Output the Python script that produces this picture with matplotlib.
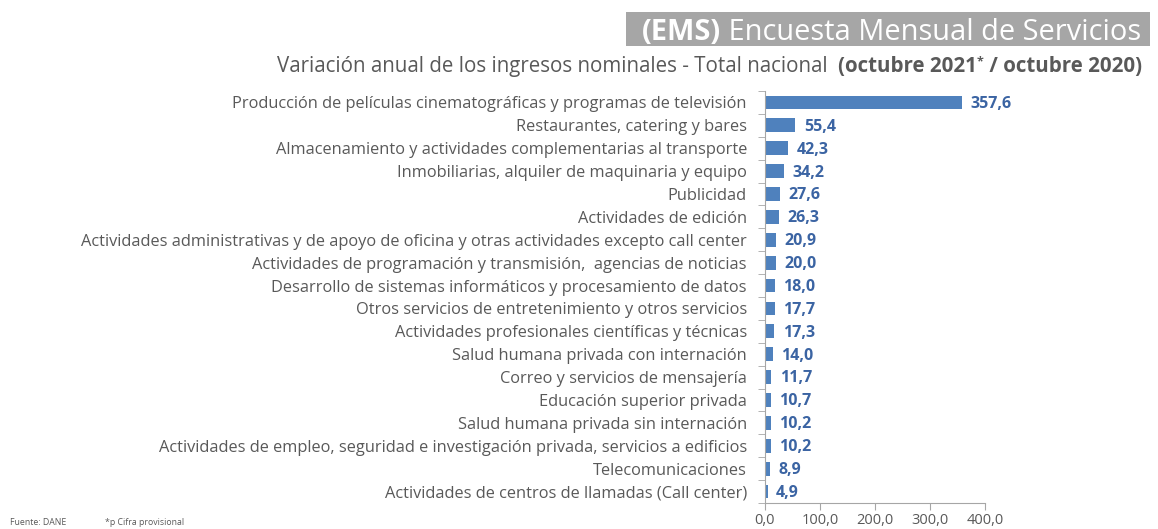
import numpy as np
import matplotlib.pyplot as plt
from matplotlib.patches import Rectangle

plt.rcParams['font.family'] = ['Open Sans', 'DejaVu Sans']

categorias = [
    'Producción de películas cinematográficas y programas de televisión',
    'Restaurantes, catering y bares',
    'Almacenamiento y actividades complementarias al transporte',
    'Inmobiliarias, alquiler de maquinaria y equipo',
    'Publicidad',
    'Actividades de edición',
    'Actividades administrativas y de apoyo de oficina y otras actividades excepto call center',
    'Actividades de programación y transmisión,  agencias de noticias',
    'Desarrollo de sistemas informáticos y procesamiento de datos',
    'Otros servicios de entretenimiento y otros servicios',
    'Actividades profesionales científicas y técnicas',
    'Salud humana privada con internación',
    'Correo y servicios de mensajería',
    'Educación superior privada',
    'Salud humana privada sin internación',
    'Actividades de empleo, seguridad e investigación privada, servicios a edificios',
    'Telecomunicaciones',
    'Actividades de centros de llamadas (Call center)',
]
variacion = [357.6, 55.4, 42.3, 34.2, 27.6, 26.3, 20.9, 20.0, 18.0, 17.7,
             17.3, 14.0, 11.7, 10.7, 10.2, 10.2, 8.9, 4.9]
xticks = [0, 100, 200, 300, 400]

gris = '#595959'
azul = '#4F81BD'
azul_txt = '#3B64A3'

fig = plt.figure(figsize=(11.58, 5.29), dpi=100)
ax = fig.add_axes([0.6606, 1 - 503 / 529, 0.19, (503 - 91) / 529])

n = len(categorias)
y = np.arange(n)
ax.barh(y, variacion, height=0.6, color=azul)
for yi, v in zip(y, variacion):
    ax.annotate(f'{v:.1f}'.replace('.', ','), (v, yi), xytext=(6, -1),
                textcoords='offset points', va='center', ha='left',
                fontsize=11.5, fontweight='bold', color=azul_txt)

ax.set_ylim(n - 0.5, -0.5)
ax.set_xlim(0, 400)
ax.set_yticks(y)
ax.set_yticklabels(categorias, fontsize=11.8, color=gris)
ax.tick_params(axis='y', which='major', length=0, pad=13)
ax.set_yticks(np.arange(-0.5, n, 1), minor=True)
ax.tick_params(axis='y', which='minor', length=5, color='#A6A6A6')
ax.set_xticks(xticks)
ax.set_xticklabels([f'{t:.1f}'.replace('.', ',') for t in xticks], fontsize=10.5, color=gris)
ax.tick_params(axis='x', length=5, color='#A6A6A6', pad=2)
for s in ['top', 'right']:
    ax.spines[s].set_visible(False)
for s in ['left', 'bottom']:
    ax.spines[s].set_color('#A6A6A6')

# cabecera
fig.patches.append(Rectangle((626 / 1158, 1 - 46 / 529), (1150 - 626) / 1158, 34 / 529,
                             transform=fig.transFigure, facecolor='#A6A6A6', edgecolor='none'))
fig.canvas.draw()
r = fig.canvas.get_renderer()

def fila(partes, x_der, y_fig):
    # coloca textos de derecha a izquierda
    x = x_der
    for txt, kw, dy in reversed(partes):
        t = fig.text(x, y_fig + dy / 529, txt, ha='right', va='baseline', **kw)
        bb = t.get_window_extent(renderer=r)
        x -= bb.width / fig.bbox.width

fila([('(EMS)', dict(fontsize=20.9, fontweight='bold', color='white'), 0),
      (' Encuesta Mensual de Servicios', dict(fontsize=20.9, color='white'), 0)],
     1141 / 1158, 1 - 40 / 529)

fila([('Variación anual de los ingresos nominales - Total nacional  ', dict(fontsize=14.8, color=gris), 0),
      ('(octubre 2021', dict(fontsize=14.8, fontweight='bold', color=gris), 0),
      ('*', dict(fontsize=9, fontweight='bold', color=gris), 7),
      (' / octubre 2020)', dict(fontsize=14.8, fontweight='bold', color=gris), 0)],
     1142 / 1158, 1 - 72 / 529)

fig.text(10 / 1158, 1 - 525 / 529, 'Fuente: DANE', fontsize=6.3, color=gris)
fig.text(105 / 1158, 1 - 525 / 529, '*p Cifra provisional', fontsize=6.3, color=gris)

fig.savefig('out.png', dpi=100, facecolor='white')
